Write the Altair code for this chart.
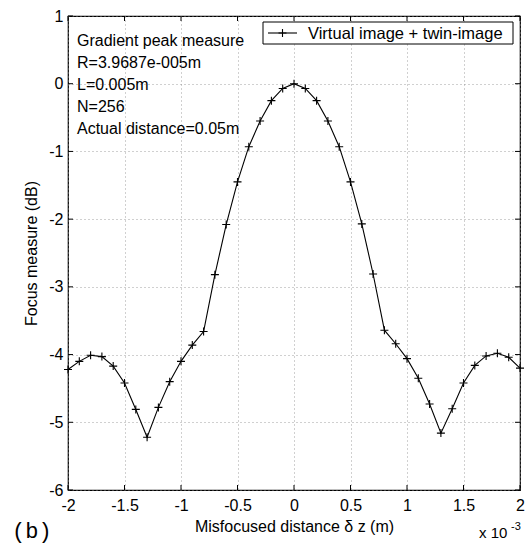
import altair as alt
import pandas as pd

# Data (x in units of 1e-3 m, y in dB)
x_vals = [-2.0, -1.9, -1.8, -1.7, -1.6, -1.5, -1.4, -1.3, -1.2, -1.1, -1.0,
          -0.9, -0.8, -0.7, -0.6, -0.5, -0.4, -0.3, -0.2, -0.1, 0.0,
          0.1, 0.2, 0.3, 0.4, 0.5, 0.6, 0.7, 0.8, 0.9, 1.0,
          1.1, 1.2, 1.3, 1.4, 1.5, 1.6, 1.7, 1.8, 1.9, 2.0]
y_vals = [-4.22, -4.10, -4.01, -4.03, -4.17, -4.42, -4.81, -5.22, -4.78, -4.40, -4.10,
          -3.86, -3.66, -2.82, -2.08, -1.45, -0.93, -0.55, -0.25, -0.07, 0.0,
          -0.07, -0.25, -0.55, -0.93, -1.45, -2.07, -2.81, -3.64, -3.84, -4.06,
          -4.35, -4.73, -5.16, -4.80, -4.42, -4.16, -4.02, -3.98, -4.04, -4.20]
series_name = "Virtual image + twin-image"
x_ticks = [-2, -1.5, -1, -0.5, 0, 0.5, 1, 1.5, 2]
y_ticks = [-6, -5, -4, -3, -2, -1, 0, 1]
info_lines = ["Gradient peak measure", "R=3.9687e-005m", "L=0.005m", "N=256",
              "Actual distance=0.05m"]

df = pd.DataFrame({"x": x_vals, "y": y_vals})
xt = pd.DataFrame({"t": x_ticks})
yt = pd.DataFrame({"t": y_ticks})
one = pd.DataFrame({"a": [0]})

W, H = 452, 474
FONT = "Liberation Sans"

label_expr = "datum.value < 0 ? '-' + format(-datum.value, '~g') : format(datum.value, '~g')"

xscale = alt.Scale(domain=[-2, 2], nice=False, zero=False)
yscale = alt.Scale(domain=[-6, 1], nice=False, zero=False)

xaxis = alt.Axis(values=x_ticks, labelExpr=label_expr, grid=True, ticks=False, domain=False,
                 title="Misfocused distance \u03b4 z (m)", labelPadding=7, titlePadding=5,
                 labelFlush=False)
yaxis = alt.Axis(values=y_ticks, labelExpr=label_expr, grid=True, ticks=False, domain=False,
                 title="Focus measure (dB)", labelPadding=5, titlePadding=9)

plus_path = "M-1,0L1,0M0,-1L0,1"

line = alt.Chart(df).mark_line(strokeWidth=1.1, color="black").encode(
    x=alt.X("x:Q", scale=xscale, axis=xaxis),
    y=alt.Y("y:Q", scale=yscale, axis=yaxis),
)

points = alt.Chart(df).mark_point(shape=plus_path, size=64, filled=False, color="black",
                                  strokeWidth=1.1, opacity=1).encode(
    x=alt.X("x:Q", scale=xscale),
    y=alt.Y("y:Q", scale=yscale),
)

tick_len = 5
xt_bottom = alt.Chart(xt).mark_rule(color="black", strokeWidth=1).encode(
    x=alt.X("t:Q", scale=xscale), y=alt.value(H), y2=alt.value(H - tick_len))
xt_top = alt.Chart(xt).mark_rule(color="black", strokeWidth=1).encode(
    x=alt.X("t:Q", scale=xscale), y=alt.value(0), y2=alt.value(tick_len))
yt_left = alt.Chart(yt).mark_rule(color="black", strokeWidth=1).encode(
    y=alt.Y("t:Q", scale=yscale), x=alt.value(0), x2=alt.value(tick_len))
yt_right = alt.Chart(yt).mark_rule(color="black", strokeWidth=1).encode(
    y=alt.Y("t:Q", scale=yscale), x=alt.value(W), x2=alt.value(W - tick_len))

# Manual legend (MATLAB style box)
leg_box = alt.Chart(one).mark_rect(fill="white", stroke="black", strokeWidth=1).encode(
    x=alt.value(195), x2=alt.value(445), y=alt.value(6), y2=alt.value(28))
leg_line = alt.Chart(one).mark_rule(color="black", strokeWidth=1.1).encode(
    x=alt.value(200), x2=alt.value(229), y=alt.value(17))
leg_plus = alt.Chart(one).mark_point(shape=plus_path, size=64, filled=False, color="black",
                                     strokeWidth=1.1, opacity=1).encode(
    x=alt.value(214.5), y=alt.value(17))
leg_text = alt.Chart(one).mark_text(align="left", baseline="middle", fontSize=16.5, font=FONT,
                                    color="black").encode(
    x=alt.value(240), y=alt.value(17.5), text=alt.value(series_name))

info = alt.Chart(one).mark_text(
    align="left", baseline="alphabetic", fontSize=16, font=FONT, color="black",
    lineHeight=22).encode(
    x=alt.value(9), y=alt.value(30), text=alt.value(info_lines))

mult = alt.Chart(one).mark_text(
    align="left", baseline="alphabetic", fontSize=15, font=FONT, color="black").encode(
    x=alt.value(411), y=alt.value(522), text=alt.value("x 10"))
mult_exp = alt.Chart(one).mark_text(
    align="left", baseline="alphabetic", fontSize=11, font=FONT, color="black").encode(
    x=alt.value(443), y=alt.value(514), text=alt.value("-3"))
panel = alt.Chart(one).mark_text(
    align="left", baseline="alphabetic", fontSize=22, font="Liberation Mono", color="black").encode(
    x=alt.value(-56), y=alt.value(522), text=alt.value("(b)"))

chart = alt.layer(xt_bottom, xt_top, yt_left, yt_right, line, points,
                  leg_box, leg_line, leg_plus, leg_text,
                  info, mult, mult_exp, panel).properties(
    width=W, height=H,
    autosize=alt.AutoSizeParams(type="none"),
    padding={"left": 68, "top": 16, "right": 10, "bottom": 57},
    background="white",
).configure_view(stroke="black", strokeWidth=1.2).configure_axis(
    gridColor="#888888", gridDash=[1, 3], gridWidth=0.8, gridOpacity=1,
    labelFont=FONT, labelFontSize=16, labelColor="black",
    titleFont=FONT, titleFontSize=16, titleFontWeight="normal", titleColor="black",
)

chart.save("out.html", embed_options={"renderer": "svg", "actions": False})
